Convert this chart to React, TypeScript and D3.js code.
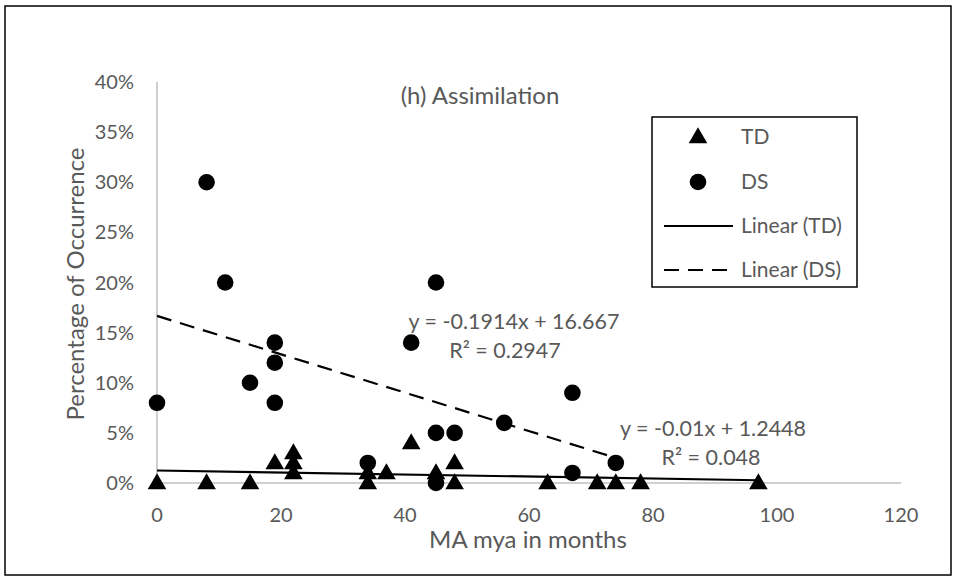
import React from "react";
import * as d3 from "d3";

const tdX = [0, 8, 15, 19, 22, 22, 22, 34, 34, 37, 41, 45, 48, 48, 63, 71, 74, 78, 97];
const tdY = [0, 0, 0, 2, 3, 2, 1, 1, 0, 1, 4, 1, 2, 0, 0, 0, 0, 0, 0];
const dsX = [0, 8, 11, 15, 19, 19, 19, 34, 41, 45, 45, 45, 48, 56, 67, 67, 74];
const dsY = [8, 30, 20, 10, 14, 12, 8, 2, 14, 20, 5, 0, 5, 6, 9, 1, 2];
const xTicks = [0, 20, 40, 60, 80, 100, 120];
const yTicks = [0, 5, 10, 15, 20, 25, 30, 35, 40];
const tdFit = { slope: -0.01, intercept: 1.2448, x0: 0, x1: 97 };
const dsFit = { slope: -0.1914, intercept: 16.667, x0: 0, x1: 74 };
const legendItems = ["TD", "DS", "Linear (TD)", "Linear (DS)"];

const FONT = "Lato, 'Open Sans', sans-serif";
const GRAY = "#595959";

export default function App() {
  const x = d3.scaleLinear().domain([0, 120]).range([157, 901]);
  const y = d3.scaleLinear().domain([0, 40]).range([483, 82]);
  const tri = d3.symbol().type(d3.symbolTriangle).size(150)()!;
  const lineGen = d3.line<[number, number]>().x((d) => x(d[0])).y((d) => y(d[1]));
  const fitPts = (f: typeof tdFit): [number, number][] => [
    [f.x0, f.intercept + f.slope * f.x0],
    [f.x1, f.intercept + f.slope * f.x1],
  ];
  const legX = 652, legY = 117;
  const rowY = [137, 182, 226, 270];
  return (
    <svg width={957} height={580} style={{ position: "absolute", left: 0, top: 0, background: "#fff" }}>
      <rect x={0} y={0} width={957} height={580} fill="#fff" />
      <rect x={5} y={6} width={946} height={569} fill="none" stroke="#000" strokeWidth={1.5} />
      <text x={480} y={104} textAnchor="middle" fontFamily={FONT} fontSize={24} fill={GRAY}>(h) Assimilation</text>
      {/* axes */}
      <line x1={x(0)} x2={x(0)} y1={y(40)} y2={y(0)} stroke="#bfbfbf" strokeWidth={1.5} />
      <line x1={x(0)} x2={x(120)} y1={y(0)} y2={y(0)} stroke="#bfbfbf" strokeWidth={1.5} />
      {yTicks.map((t) => (
        <text key={"y" + t} x={134} y={y(t) + 7} textAnchor="end" fontFamily={FONT} fontSize={20} fill={GRAY}>{t + "%"}</text>
      ))}
      {xTicks.map((t) => (
        <text key={"x" + t} x={x(t)} y={522} textAnchor="middle" fontFamily={FONT} fontSize={20} fill={GRAY}>{t}</text>
      ))}
      <text x={528} y={548} textAnchor="middle" fontFamily={FONT} fontSize={24} fill={GRAY}>MA mya in months</text>
      <text transform={`translate(84,284) rotate(-90)`} textAnchor="middle" fontFamily={FONT} fontSize={24} fill={GRAY}>Percentage of Occurrence</text>
      {/* trendlines */}
      <path d={lineGen(fitPts(tdFit))!} stroke="#000" strokeWidth={2.2} fill="none" />
      <path d={lineGen(fitPts(dsFit))!} stroke="#000" strokeWidth={2.2} fill="none" strokeDasharray="15,9" />
      {/* points */}
      {tdX.map((v, i) => (
        <path key={"t" + i} d={tri} transform={`translate(${x(v)},${y(tdY[i]) + 1})`} fill="#000" />
      ))}
      {dsX.map((v, i) => (
        <circle key={"d" + i} cx={x(v)} cy={y(dsY[i])} r={8.3} fill="#000" />
      ))}
      {/* equations */}
      <text x={514} y={329} textAnchor="middle" fontFamily={FONT} fontSize={21.5} fill={GRAY}>y = -0.1914x + 16.667</text>
      <text x={505} y={358} textAnchor="middle" fontFamily={FONT} fontSize={21.5} fill={GRAY}>R² = 0.2947</text>
      <text x={713} y={436} textAnchor="middle" fontFamily={FONT} fontSize={21.5} fill={GRAY}>y = -0.01x + 1.2448</text>
      <text x={711} y={465} textAnchor="middle" fontFamily={FONT} fontSize={21.5} fill={GRAY}>R² = 0.048</text>
      {/* legend */}
      <rect x={legX} y={legY} width={205} height={170} fill="#fff" stroke="#000" strokeWidth={1.5} />
      <path d={tri} transform={`translate(698,${rowY[0] + 1})`} fill="#000" />
      <circle cx={698} cy={rowY[1]} r={8.3} fill="#000" />
      <line x1={664} x2={733} y1={rowY[2]} y2={rowY[2]} stroke="#000" strokeWidth={2.2} />
      <line x1={664} x2={733} y1={rowY[3]} y2={rowY[3]} stroke="#000" strokeWidth={2.2} strokeDasharray="15,9" />
      {legendItems.map((s, i) => (
        <text key={s} x={741} y={rowY[i] + 7} fontFamily={FONT} fontSize={21} fill={GRAY}>{s}</text>
      ))}
    </svg>
  );
}
